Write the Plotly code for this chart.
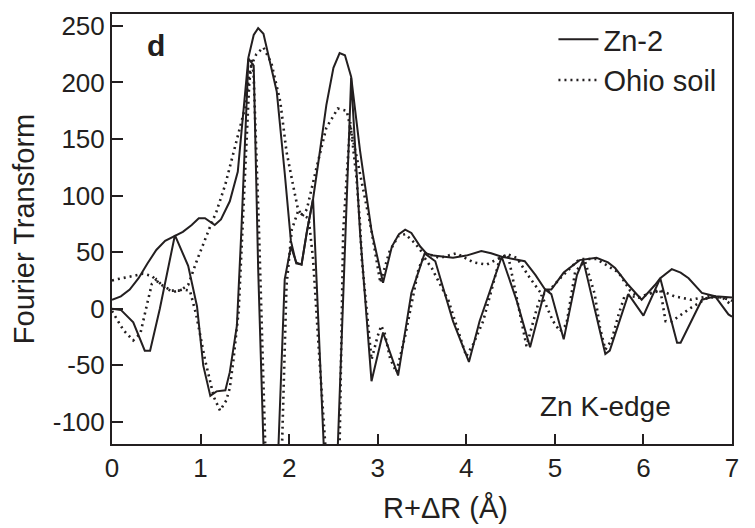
import plotly.graph_objects as go

# Zn-2 (solid): magnitude and imaginary part
zn_mag_r = [0.0, 0.1, 0.2, 0.3, 0.4, 0.5, 0.6, 0.7, 0.8, 0.9, 0.98, 1.05, 1.1, 1.16, 1.23, 1.33, 1.42,
            1.54, 1.6, 1.65, 1.71, 1.78, 1.86, 1.95, 2.02, 2.08, 2.14, 2.2, 2.27, 2.34, 2.42, 2.5, 2.57,
            2.63, 2.7, 2.8, 2.93, 3.06, 3.16, 3.24, 3.31, 3.38, 3.48, 3.55, 3.63, 3.85, 4.0, 4.17, 4.28,
            4.4, 4.55, 4.66, 4.78, 4.89, 4.96, 5.1, 5.28, 5.47, 5.6, 5.68, 5.83, 5.98, 6.13, 6.19, 6.32,
            6.42, 6.51, 6.66, 6.81, 7.0]
zn_mag = [8, 11, 17, 27, 40, 52, 60, 64, 68, 74, 80, 80, 77, 74, 79, 95, 121,
          222, 242, 248, 243, 220, 192, 120, 60, 40, 39, 68, 97, 135, 180, 213, 226,
          224, 205, 140, 69, 23, 55, 66, 70, 67, 55, 49, 47, 45, 47, 51, 49,
          46, 44, 42, 30, 17, 17, 32, 43, 45, 41, 36, 21, 8, 21, 27, 35,
          32, 27, 14, 11, 10]

zn_im_r = [0.0, 0.1, 0.24, 0.37, 0.43, 0.54, 0.71, 0.86, 0.96, 1.03, 1.11, 1.18, 1.28, 1.33, 1.41,
           1.46, 1.54, 1.6, 1.65, 1.71, 1.78, 1.84, 1.88, 1.95, 2.02, 2.08, 2.14, 2.2, 2.27, 2.39,
           2.47, 2.55, 2.7, 2.8, 2.93, 3.06, 3.23, 3.38, 3.53, 3.65, 3.85, 4.03, 4.15, 4.4, 4.57,
           4.72, 4.89, 4.96, 5.1, 5.25, 5.32, 5.57, 5.62, 5.83, 6.0, 6.19, 6.38, 6.42, 6.66, 6.81,
           6.96, 7.0]
zn_im = [0, -1, -12, -37, -37, 0, 65, 38, 2, -50, -77, -73, -72, -56, -15,
         68, 221, 215, 36, -120, -210, -160, -120, 26, 55, 41, 39, 68, 97, -120,
         -220, -120, 204, 68, -64, -21, -59, 14, 49, 42, -11, -47, -11, 46, 7,
         -34, 17, 13, -27, 30, 43, -40, -37, 13, -6, 27, -30, -30, 8, 11,
         -5, -7]

# Ohio soil (dotted): magnitude and imaginary part
soil_mag_r = [0.0, 0.05, 0.24, 0.35, 0.45, 0.54, 0.67, 0.77, 0.86, 0.96, 1.11, 1.18, 1.28, 1.41, 1.5,
              1.56, 1.63, 1.71, 1.8, 1.9, 1.97, 2.05, 2.1, 2.15, 2.2, 2.31, 2.42, 2.55, 2.65, 2.76,
              2.86, 2.93, 3.03, 3.13, 3.23, 3.31, 3.42, 3.5, 3.7, 3.89, 4.08, 4.23, 4.38, 4.47, 4.57,
              4.72, 4.85, 4.9, 5.06, 5.25, 5.3, 5.47, 5.72, 5.85, 5.95, 6.09, 6.2, 6.35, 6.54, 6.73,
              6.89, 7.0]
soil_mag = [25, 26, 29, 31, 29, 22, 16, 16, 21, 43, 73, 86, 110, 151, 177,
            213, 225, 231, 217, 183, 139, 107, 88, 82, 88, 125, 160, 177, 175, 135,
            98, 69, 23, 50, 64, 66, 58, 50, 45, 49, 41, 39, 45, 48, 45,
            27, 13, 13, 27, 42, 44, 44, 32, 16, 10, 14, 16, 11, 8, 11,
            10, 7]

soil_im_r = [0.0, 0.07, 0.13, 0.24, 0.32, 0.39, 0.45, 0.5, 0.6, 0.7, 0.8, 0.88, 0.95, 1.05, 1.15,
             1.22, 1.29, 1.33, 1.37, 1.43, 1.5, 1.55, 1.58, 1.6, 1.66, 1.73, 1.82, 1.92, 1.97, 2.03,
             2.1, 2.17, 2.22, 2.27, 2.33, 2.4, 2.49, 2.57, 2.61, 2.69, 2.76, 2.8, 2.82, 2.93, 3.0,
             3.04, 3.08, 3.14, 3.21, 3.31, 3.38, 3.46, 3.52, 3.61, 3.8, 3.93, 4.0, 4.08, 4.19, 4.29,
             4.38, 4.47, 4.55, 4.61, 4.68, 4.81, 4.85, 4.89, 4.98, 5.06, 5.13, 5.23, 5.34, 5.45, 5.51,
             5.57, 5.64, 5.72, 5.79, 5.95, 6.1, 6.19, 6.25, 6.32, 6.54, 6.73, 6.89, 6.96, 7.0]
soil_im = [-2, -11, -19, -28, -22, 2, 22, 26, 18, 15, 17, 16, -5, -45, -78,
           -90, -81, -70, -46, -2, 120, 200, 220, 205, 68, -120, -220, -120, 20, 70,
           86, 82, 80, 44, -30, -115, -215, -120, 68, 165, 116, 75, 44, -45, -24,
           -15, -22, -44, -56, -24, 5, 35, 46, 36, 7, -26, -42, -31, -11, 18,
           45, 48, 18, -5, -33, 4, 12, 5, -11, -20, -14, 33, 42, 13, -17,
           -36, -28, -5, 12, 10, 14, 17, -11, -11, 1, 10, 10, 5, 3]

x_ticks = [0, 1, 2, 3, 4, 5, 6, 7]
x_labels = ["0", "1", "2", "3", "4", "5", "6", "7"]
y_ticks = [-100, -50, 0, 50, 100, 150, 200, 250]
y_labels = ["-100", "-50", "0", "50", "100", "150", "200", "250"]

INK = "#231f20"
FONT = "Liberation Sans, Arial, Helvetica, sans-serif"
DOT = "2px,4px"

fig = go.Figure()
fig.add_trace(go.Scatter(x=zn_mag_r, y=zn_mag, mode="lines", name="Zn-2",
                         line=dict(color=INK, width=2), legendrank=1))
fig.add_trace(go.Scatter(x=zn_im_r, y=zn_im, mode="lines", showlegend=False,
                         line=dict(color=INK, width=2)))
fig.add_trace(go.Scatter(x=soil_mag_r, y=soil_mag, mode="lines", name="Ohio soil",
                         line=dict(color=INK, width=2.6, dash=DOT), legendrank=2))
fig.add_trace(go.Scatter(x=soil_im_r, y=soil_im, mode="lines", showlegend=False,
                         line=dict(color=INK, width=2.6, dash=DOT)))

# page body has an 8px margin, so the figure is 8px smaller and margins are shifted
fig.update_layout(
    width=747, height=520,
    margin=dict(l=104, r=23, t=3, b=84),
    paper_bgcolor="white", plot_bgcolor="white",
    font=dict(family=FONT, color=INK, size=26),
    showlegend=True,
    legend=dict(x=0.712, y=1.0, xanchor="left", yanchor="top",
                font=dict(size=29, family=FONT, color=INK),
                bgcolor="rgba(0,0,0,0)", itemwidth=40, tracegroupgap=0),
    xaxis=dict(range=[0, 7], tickvals=x_ticks, ticktext=x_labels, ticks="inside", ticklen=10,
               tickwidth=2, tickcolor=INK, showline=True, linewidth=2, linecolor=INK, mirror=True,
               showgrid=False, zeroline=False, tickfont=dict(size=26)),
    yaxis=dict(range=[-119.5, 260.5], tickvals=y_ticks, ticktext=y_labels, ticks="inside", ticklen=11,
               tickwidth=2, tickcolor=INK, showline=True, linewidth=2, linecolor=INK, mirror=True,
               showgrid=False, zeroline=False, tickfont=dict(size=26),
               title=dict(text="Fourier Transform", font=dict(size=29), standoff=12)),
    annotations=[
        dict(x=0.5, y=233, xref="x", yref="y", text="<b>d</b>", showarrow=False,
             font=dict(size=30, family=FONT, color=INK)),
        dict(x=5.57, y=-86, xref="x", yref="y", text="Zn K-edge", showarrow=False,
             font=dict(size=28, family=FONT, color=INK)),
        dict(x=3.76, y=-0.150, xref="x", yref="paper", text="R+ΔR (Å)", showarrow=False,
             yanchor="middle", font=dict(size=29, family=FONT, color=INK)),
    ],
)

fig.write_html("out.html")
